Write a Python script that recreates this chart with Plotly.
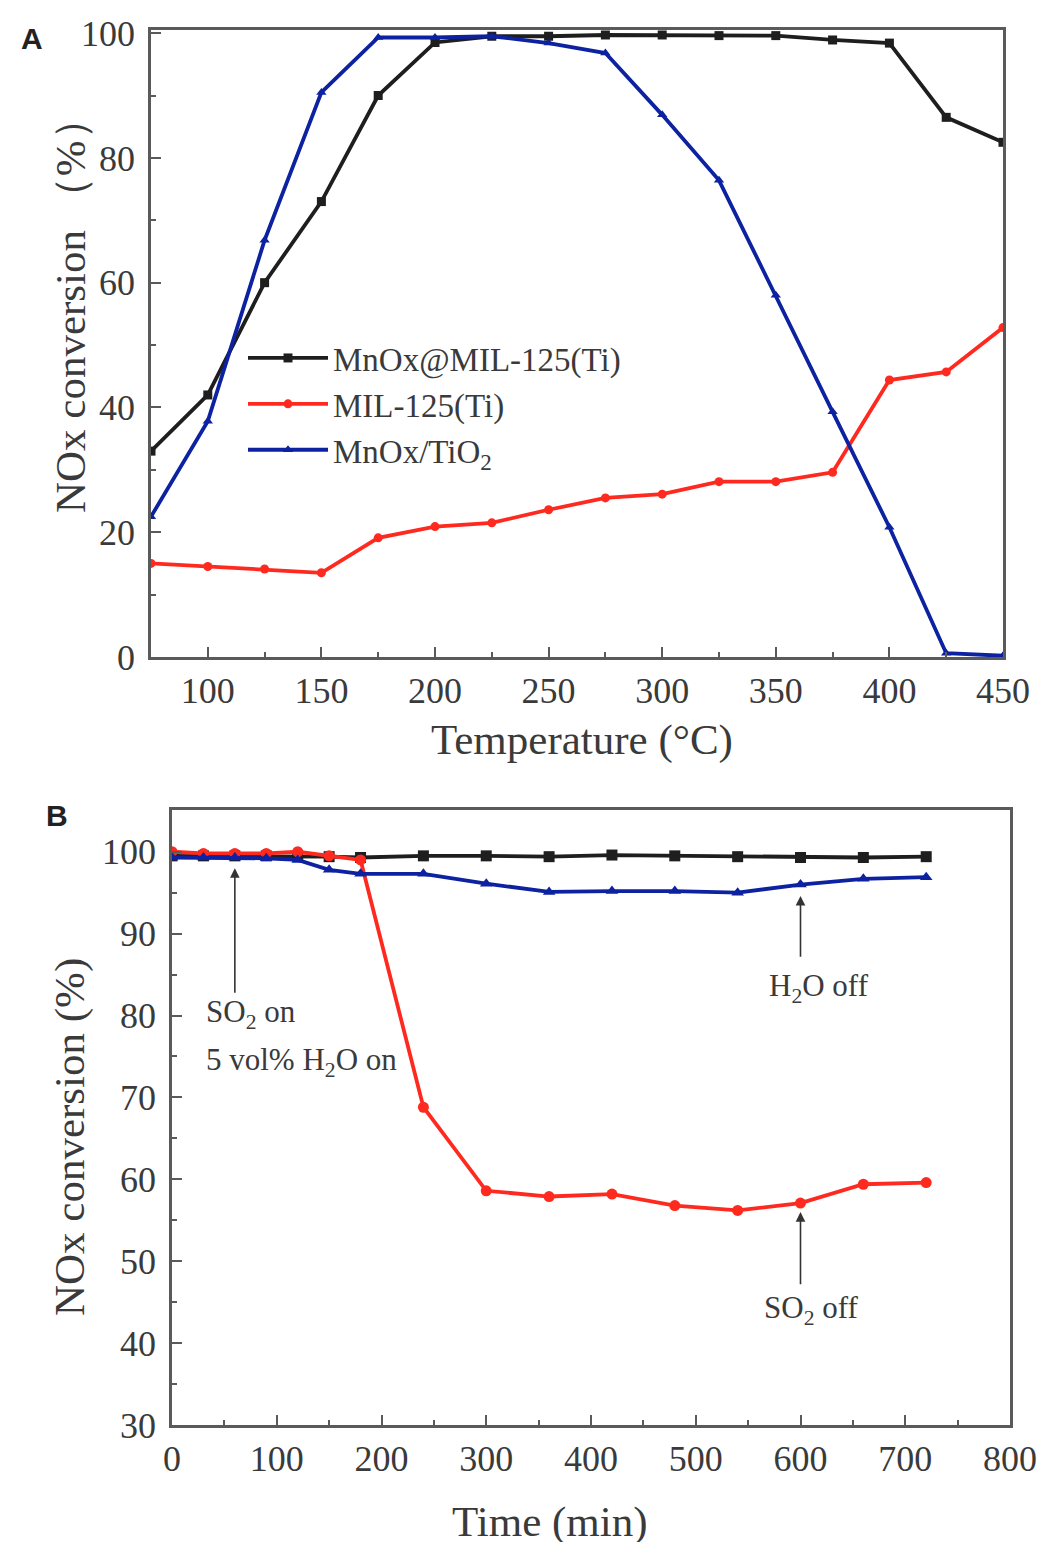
import plotly.graph_objects as go

# ---------------- Data: panel A ----------------
temps = [75, 100, 125, 150, 175, 200, 225, 250, 275, 300, 325, 350, 375, 400, 425, 450]
mnox_mil = [33, 42, 60, 73, 90, 98.5, 99.5, 99.5, 99.7, 99.7, 99.6, 99.6, 98.9, 98.4, 86.5, 82.5]
mil125 = [15.0, 14.5, 14.1, 13.5, 19.1, 20.9, 21.5, 23.6, 25.5, 26.1, 28.1, 28.1, 29.6, 44.4, 45.7, 52.8]
mnox_tio2 = [22.5, 37.8, 66.8, 90.5, 99.3, 99.3, 99.5, 98.4, 96.8, 86.9, 76.4, 58.0, 39.3, 20.8, 0.6, 0.2]

# ---------------- Data: panel B ----------------
times = [0, 30, 60, 90, 120, 150, 180, 240, 300, 360, 420, 480, 540, 600, 660, 720]
b_mnox_mil = [99.5, 99.5, 99.5, 99.5, 99.5, 99.4, 99.3, 99.5, 99.5, 99.4, 99.6, 99.5, 99.4, 99.3, 99.3, 99.4]
b_mil125 = [100, 99.8, 99.8, 99.8, 100, 99.5, 99.0, 68.8, 58.6, 57.9, 58.2, 56.8, 56.2, 57.1, 59.4, 59.6]
b_mnox_tio2 = [99.3, 99.3, 99.3, 99.2, 99.0, 97.8, 97.3, 97.3, 96.1, 95.1, 95.2, 95.2, 95.0, 96.0, 96.7, 96.9]

names = ["MnOx@MIL-125(Ti)", "MIL-125(Ti)", "MnOx/TiO<sub>2</sub>"]
colors = ["#1e1e1e", "#ff2a1f", "#0d22a0"]
symbols = ["square", "circle", "triangle-up"]

W, H = 1047, 1542
OFF = 8  # page body margin
SERIF = "Liberation Serif, Times New Roman, serif"
TXT = "#3a3a3a"

def px_x(p):
    return (p - OFF) / W

def px_y(p):
    return 1 - (p - OFF) / H

fig = go.Figure()

for name, ys, c, s in zip(names, [mnox_mil, mil125, mnox_tio2], colors, symbols):
    fig.add_trace(go.Scatter(
        x=temps, y=ys, name=name, mode="lines+markers",
        line=dict(color=c, width=3.8),
        marker=dict(symbol=s, size=9, color=c),
        xaxis="x", yaxis="y", showlegend=True,
    ))

for name, ys, c, s in zip(names, [b_mnox_mil, b_mil125, b_mnox_tio2], colors, symbols):
    fig.add_trace(go.Scatter(
        x=times, y=ys, name=name, mode="lines+markers",
        line=dict(color=c, width=3.8),
        marker=dict(symbol=s, size=11, color=c),
        xaxis="x2", yaxis="y2", showlegend=False,
    ))

axis_common = dict(
    showline=True, linecolor="#5a5a5a", linewidth=2.5, mirror=True,
    ticks="inside", ticklen=10, tickwidth=2, tickcolor="#5a5a5a",
    showgrid=False, zeroline=False, automargin=False,
    tickfont=dict(family=SERIF, size=36, color=TXT),
)
minor_common = dict(ticks="inside", ticklen=5, tickcolor="#5a5a5a", tickwidth=2, tick0=0)

fig.update_layout(
    width=W, height=H,
    margin=dict(l=0, r=0, t=0, b=0, pad=0, autoexpand=False),
    paper_bgcolor="white", plot_bgcolor="white",
    xaxis=dict(domain=[px_x(151), px_x(1003)], range=[75, 450],
               tick0=0, dtick=50, anchor="y",
               minor=dict(dtick=25, **minor_common), **axis_common),
    yaxis=dict(domain=[px_y(657), px_y(30)], range=[0, 100.5],
               tick0=0, dtick=20, anchor="x", ticklabelstandoff=6,
               minor=dict(dtick=10, **minor_common), **axis_common),
    xaxis2=dict(domain=[px_x(172), px_x(1010)], range=[0, 800],
                tick0=0, dtick=100, anchor="y2",
                minor=dict(dtick=50, **minor_common), **axis_common),
    yaxis2=dict(domain=[px_y(1425), px_y(810)], range=[30, 105.1],
                tick0=0, dtick=10, anchor="x2", ticklabelstandoff=6,
                minor=dict(dtick=5, **minor_common), **axis_common),
    legend=dict(x=px_x(243), y=px_y(330), xanchor="left", yanchor="top",
                bgcolor="rgba(0,0,0,0)", font=dict(family=SERIF, size=33, color=TXT),
                itemwidth=80, tracegroupgap=0),
    showlegend=True,
)

ann = []

def paper_text(text, x, y, size, family=SERIF, angle=0, color=TXT):
    return dict(text=text, x=px_x(x), y=px_y(y), xref="paper", yref="paper",
                xanchor="center", yanchor="middle", textangle=angle, showarrow=False,
                font=dict(family=family, size=size, color=color))

# Panel labels
ann.append(paper_text("<b>A</b>", 32, 38, 30, family="Liberation Sans, Arial, sans-serif", color="#222"))
ann.append(paper_text("<b>B</b>", 57, 815, 30, family="Liberation Sans, Arial, sans-serif", color="#222"))
# Axis titles
ann.append(paper_text("NOx conversion （%）", 70, 305, 43, angle=-90))
ann.append(paper_text("Temperature (°C)", 582, 740, 43))
ann.append(paper_text("NOx conversion (%)", 70, 1137, 43, angle=-90))
ann.append(paper_text("Time (min)", 550, 1522, 43))

# Arrows in panel B
arrow = dict(xref="x2", yref="y2", axref="x2", ayref="y2", text="", showarrow=True,
             arrowhead=2, arrowsize=1.2, arrowwidth=1.6, arrowcolor="#333")
ann.append(dict(x=60, y=98.0, ax=60, ay=82.6, **arrow))
ann.append(dict(x=600, y=94.6, ax=600, ay=87.0, **arrow))
ann.append(dict(x=600, y=56.0, ax=600, ay=47.0, **arrow))

note_font = dict(family=SERIF, size=31, color=TXT)
ann.append(dict(text="SO<sub>2</sub> on", x=31, y=80.2, xref="x2", yref="y2",
                xanchor="left", yanchor="middle", showarrow=False, font=note_font))
ann.append(dict(text="5 vol% H<sub>2</sub>O on", x=31, y=74.3, xref="x2", yref="y2",
                xanchor="left", yanchor="middle", showarrow=False, font=note_font))
ann.append(dict(text="H<sub>2</sub>O off", x=618, y=83.4, xref="x2", yref="y2",
                xanchor="center", yanchor="middle", showarrow=False, font=note_font))
ann.append(dict(text="SO<sub>2</sub> off", x=610, y=44.0, xref="x2", yref="y2",
                xanchor="center", yanchor="middle", showarrow=False, font=note_font))

fig.update_layout(annotations=ann)

fig.write_html("out.html")
